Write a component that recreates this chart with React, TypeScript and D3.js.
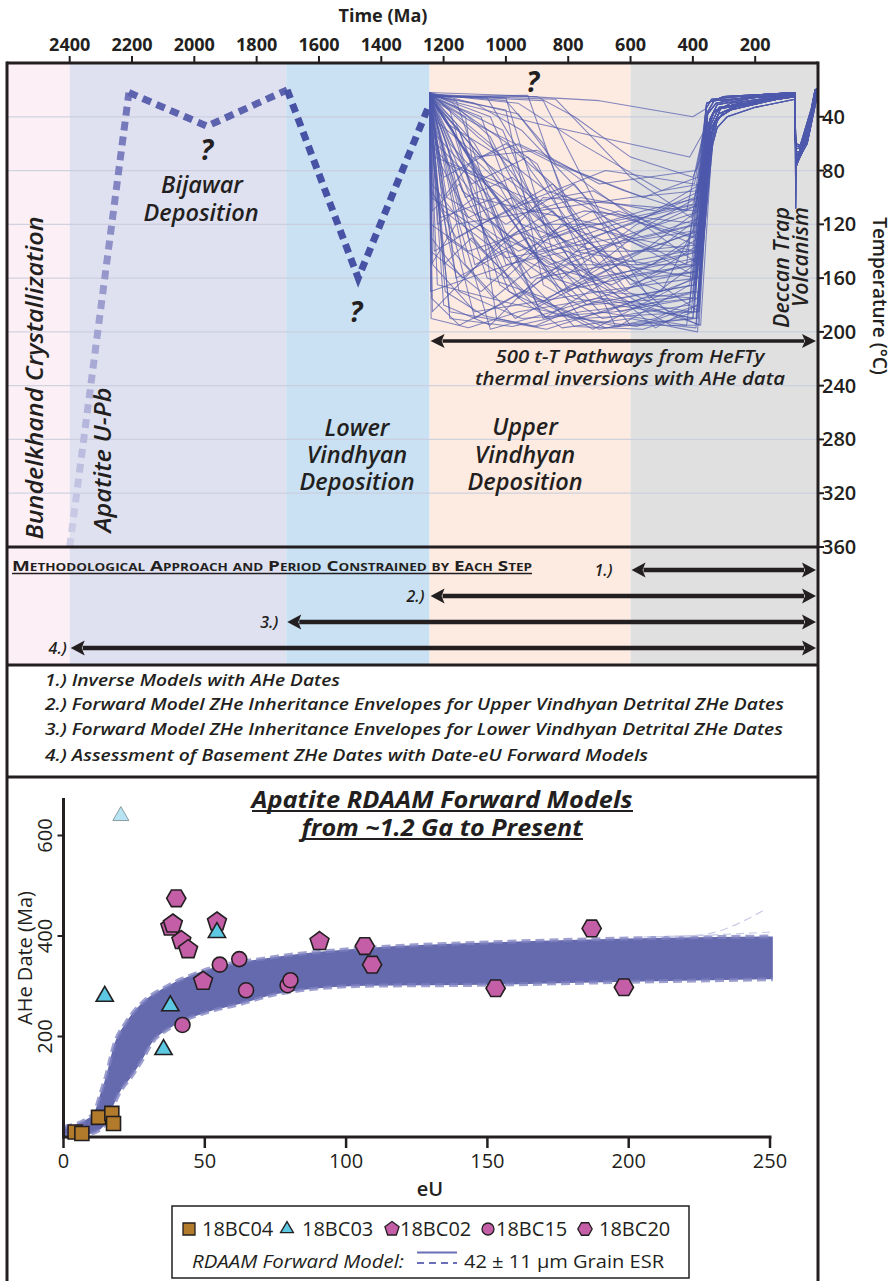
import React from 'react';
import * as d3 from 'd3';

const W = 893;
const H = 1281;
const INK = '#231f20';
const FONT = "'Open Sans', 'Noto Sans', sans-serif";

// ---- Time / temperature axes ----
const TIME_TICKS = [2400, 2200, 2000, 1800, 1600, 1400, 1200, 1000, 800, 600, 400, 200];
const TEMP_TICKS = [40, 80, 120, 160, 200, 240, 280, 320, 360];

// Geologic intervals shaded behind the history (Ma, oldest first)
const PERIOD_EDGES = [2600, 2400, 1705, 1245, 600, 0];
const PERIOD_COLORS = ['#fcf0f6', '#dfe1f0', '#c9e1f3', '#fdeae1', '#e0e0e1'];

// Inferred early history (time Ma, temperature °C)
const EARLY_LEG = [[2400, 360], [2210, 22]];
const BIJAWAR_LEG = [[2210, 22], [1959, 47], [1702, 20]];
const LOWER_VINDHYAN_LEG = [[1702, 20], [1474, 160], [1244, 30]];
const QUERY_MARKS = [[1960, 65], [1481, 185], [914, 14]];

// HeFTy t-T pathways: the pre-cooling part of each path
const TT_HEADS = [
  [[1245, 24], [1235, 150], [1100, 185], [700, 170], [390, 160]],
  [[1245, 22], [1240, 100], [1050, 130], [780, 175], [385, 190]],
  [[1245, 25], [1180, 60], [950, 120], [600, 150], [380, 185]],
  [[1245, 23], [1000, 26], [850, 140], [560, 180], [375, 195]],
  [[1245, 24], [880, 28], [700, 110], [400, 130]],
  [[1245, 26], [1200, 180], [1050, 195], [900, 160], [420, 140]],
  [[1245, 22], [1230, 80], [1150, 170], [950, 190], [650, 185], [395, 175]],
  [[1245, 25], [1100, 45], [800, 80], [560, 120], [380, 150]],
  [[1245, 23], [1240, 120], [1120, 140], [750, 110], [370, 120]],
  [[1245, 24], [1150, 35], [900, 75], [650, 195], [400, 190]],
  [[1245, 22], [1050, 60], [760, 150], [520, 197], [385, 180]],
  [[1245, 27], [1220, 165], [1000, 178], [640, 196], [410, 165]],
  [[1245, 24], [1130, 100], [980, 85], [700, 140], [380, 105]],
  [[1245, 23], [960, 30], [760, 60], [500, 95], [375, 90]],
  [[1245, 25], [1238, 60], [1180, 185], [870, 198], [560, 175], [390, 170]],
  [[1245, 22], [1190, 130], [1000, 160], [820, 120], [600, 140], [370, 135]],
  [[1245, 24], [840, 27], [600, 85], [405, 115]],
  [[1245, 26], [1210, 90], [1100, 190], [950, 170], [720, 198], [400, 160]],
  [[1245, 23], [1170, 50], [1020, 165], [820, 197], [600, 190], [385, 200]],
  [[1245, 24], [1230, 30], [1000, 110], [850, 90], [600, 165], [380, 145]],
  [[1245, 22], [1120, 70], [900, 180], [680, 150], [390, 125]],
  [[1245, 25], [1200, 40], [1050, 95], [700, 185], [420, 195]],
  [[1245, 24], [1160, 28], [980, 150], [780, 196], [560, 198], [395, 185]],
  [[1245, 23], [1240, 95], [1200, 110], [1000, 145], [640, 130], [375, 110]],
  [[1245, 25], [1080, 40], [920, 140], [740, 180], [470, 175], [380, 170]],
  [[1245, 22], [1238, 175], [1150, 195], [1020, 180], [800, 150], [400, 150]],
  [[1245, 24], [1100, 30], [950, 50], [620, 130], [380, 160]],
  [[1245, 26], [1230, 140], [1080, 120], [900, 175], [680, 197], [390, 190]],
  [[1245, 23], [1190, 75], [940, 100], [720, 170], [380, 175]],
  [[1245, 24], [1000, 35], [880, 165], [690, 190], [410, 180]],
  [[1245, 22], [1150, 120], [1050, 198], [850, 185], [500, 160], [385, 155]],
  [[1245, 25], [1220, 55], [1120, 80], [850, 130], [560, 110], [375, 100]],
  [[1245, 24], [1130, 150], [970, 190], [760, 165], [380, 140]],
  [[1245, 23], [1240, 40], [1060, 75], [800, 120], [480, 185], [385, 185]],
  [[1245, 25], [930, 24], [800, 110], [610, 170], [380, 195]],
  [[1245, 24], [1200, 100], [1100, 70], [900, 65], [700, 90], [390, 80]],
  [[1245, 22], [1180, 190], [980, 196], [760, 185], [400, 175]],
  [[1245, 25], [1080, 85], [850, 160], [640, 175], [395, 165]],
  [[1245, 23], [1240, 130], [1140, 160], [960, 125], [700, 150], [380, 125]],
  [[1245, 24], [1160, 45], [1010, 130], [820, 150], [470, 195], [390, 197]],
  [[1245, 22], [1000, 24], [700, 28], [400, 40]],
  [[1245, 23], [1150, 30], [900, 45], [410, 70]],
  [[1245, 25], [1242, 170], [1120, 160], [600, 120], [375, 95]],
  [[1245, 24], [1236, 185], [1090, 150], [880, 100], [390, 110]],
  [[1245, 26], [1190, 60], [1100, 150], [930, 130], [720, 160], [385, 145]],
  [[1245, 24], [1210, 115], [1030, 100], [830, 170], [620, 160], [380, 150]],
  [[1245, 22], [1090, 55], [870, 95], [660, 110], [395, 135]],
  [[1245, 25], [1170, 140], [1040, 175], [880, 145], [630, 185], [400, 170]],
  [[1245, 23], [1230, 70], [1010, 90], [780, 140], [530, 150], [375, 125]],
  [[1245, 24], [1140, 85], [990, 170], [830, 188], [580, 196], [385, 180]],
  [[1245, 25], [1060, 26], [920, 80], [760, 130], [550, 160], [390, 155]],
  [[1245, 22], [1200, 150], [1110, 130], [870, 190], [680, 175], [405, 185]],
  [[1245, 24], [1150, 110], [960, 140], [740, 120], [520, 140], [380, 115]],
  [[1245, 26], [1242, 60], [1130, 90], [920, 160], [700, 140], [395, 140]],
  [[1245, 23], [1010, 50], [880, 120], [690, 120], [420, 150]],
  [[1245, 25], [1195, 170], [1070, 188], [910, 196], [750, 180], [390, 165]],
  [[1245, 24], [1240, 150], [1160, 120], [900, 110], [600, 100], [385, 95]],
  [[1245, 23], [1100, 60], [900, 140], [650, 120], [390, 105]],
  [[1245, 25], [1200, 85], [1000, 60], [800, 100], [560, 130], [380, 120]],
  [[1245, 22], [1170, 30], [1050, 55], [800, 170], [560, 140], [385, 110]],
  [[1245, 24], [1236, 110], [1150, 90], [960, 175], [720, 130], [395, 100]],
  [[1245, 26], [1130, 65], [950, 105], [720, 95], [500, 125], [375, 115]],
  [[1245, 23], [1242, 140], [1080, 170], [880, 130], [640, 110], [390, 130]],
  [[1245, 25], [1060, 115], [880, 150], [660, 165], [450, 140], [380, 130]],
  [[1245, 24], [1190, 45], [980, 75], [760, 160], [540, 120], [385, 100]],
  [[1245, 22], [1220, 120], [1100, 100], [920, 110], [700, 120], [400, 105]],
  [[1245, 25], [1140, 95], [1000, 120], [780, 90], [580, 150], [380, 140]],
  [[1245, 23], [1000, 28], [880, 60], [720, 150], [500, 170], [390, 120]],
  [[1245, 24], [1238, 90], [1070, 140], [850, 110], [620, 170], [380, 135]],
  [[1245, 26], [1180, 35], [1080, 120], [900, 100], [680, 80], [395, 90]],
  [[1245, 22], [1160, 160], [1000, 140], [820, 160], [580, 120], [375, 105]],
  [[1245, 25], [900, 25], [780, 40], [600, 70], [400, 85]],
  [[1245, 24], [1225, 60], [1050, 100], [880, 190], [660, 160], [390, 150]],
  [[1245, 23], [1120, 130], [940, 170], [700, 198], [520, 190], [385, 175]],
  [[1245, 25], [1210, 75], [1120, 115], [980, 100], [770, 140], [390, 120]],
  [[1245, 24], [1080, 70], [960, 60], [780, 80], [560, 100], [385, 85]],
  [[1245, 22], [1240, 190], [1120, 197], [960, 185], [700, 175], [400, 190]],
  [[1245, 26], [1150, 50], [1000, 150], [800, 140], [600, 195], [390, 195]],
  [[1245, 23], [1050, 40], [920, 110], [760, 100], [520, 110], [375, 90]],
  [[1245, 25], [1190, 100], [1040, 120], [860, 150], [660, 135], [400, 125]],
  [[1245, 24], [1130, 40], [1030, 190], [900, 196], [680, 185], [385, 160]],
  [[1245, 22], [960, 38], [840, 75], [620, 95], [420, 110]],
  [[1245, 25], [1230, 100], [1160, 130], [1000, 110], [760, 190], [380, 185]],
  [[1245, 23], [1110, 90], [930, 70], [760, 120], [600, 130], [390, 140]],
  [[1245, 24], [1200, 65], [1060, 160], [870, 175], [640, 150], [380, 160]],
  [[1245, 26], [1040, 80], [890, 130], [720, 110], [540, 175], [395, 150]],
];

// Cooling, Deccan reheating and final exhumation segments
const TT_TAILS = [
  [[346, 42], [322, 31], [210, 26], [72, 23], [70, 70], [58, 68], [30, 55], [6, 24], [0, 20]],
  [[340, 52], [312, 34], [150, 27], [72, 24], [70, 74], [60, 70], [28, 52], [5, 22], [0, 21]],
  [[352, 36], [332, 28], [110, 24], [72, 22], [70, 64], [56, 63], [24, 40], [8, 21], [0, 20]],
  [[338, 58], [320, 41], [250, 31], [72, 25], [70, 78], [60, 72], [32, 58], [4, 26], [0, 22]],
  [[356, 30], [300, 25], [72, 22], [70, 62], [55, 62], [22, 38], [8, 20], [0, 19]],
  [[342, 46], [316, 33], [180, 28], [72, 24], [70, 108], [68, 72], [58, 69], [28, 50], [5, 23], [0, 21]],
  [[348, 62], [331, 46], [300, 36], [72, 24], [70, 70], [57, 66], [26, 45], [6, 22], [0, 20]],
  [[353, 38], [326, 30], [220, 25], [72, 23], [70, 68], [60, 67], [30, 52], [7, 24], [0, 20]],
  [[344, 50], [318, 38], [260, 32], [160, 28], [72, 25], [70, 72], [59, 70], [30, 56], [5, 24], [0, 21]],
  [[350, 45], [328, 35], [240, 29], [72, 24], [70, 66], [58, 66], [26, 44], [7, 22], [0, 20]],
  [[336, 60], [322, 48], [290, 40], [200, 33], [72, 27], [70, 76], [60, 71], [33, 60], [4, 28], [0, 22]],
  [[358, 34], [340, 27], [160, 23], [72, 22], [70, 60], [55, 61], [20, 34], [8, 20], [0, 19]],
  [[345, 55], [325, 42], [270, 33], [130, 27], [72, 24], [70, 73], [57, 69], [29, 53], [6, 23], [0, 21]],
  [[349, 48], [333, 37], [280, 30], [72, 23], [70, 69], [58, 67], [27, 48], [7, 22], [0, 20]],
];
const TT_TAIL_OF = [
  0, 1, 2, 3, 4, 5, 6, 7, 8, 9, 10, 11, 12, 13,
  2, 0, 3, 1, 6, 4, 7, 5, 9, 8, 11, 10, 13, 12,
  5, 4, 0, 2, 1, 3, 6, 7, 12, 10, 8, 13, 11, 9,
  4, 2, 0, 1, 3, 7, 6, 5, 2, 0, 1, 3, 4, 6,
  8, 9, 10, 11, 12, 13, 0, 1, 2, 3, 4, 5, 6, 7,
  13, 12, 11, 10, 9, 8, 7, 6, 5, 4, 3, 2, 1, 0,
  3, 8,
];

// ---- Methodology steps ----
const STEP_LABELS = ['1.)', '2.)', '3.)', '4.)'];
const STEP_START_MA = [600, 1245, 1705, 2400];
const STEP_NOTES = [
  '1.) Inverse Models with AHe Dates',
  '2.) Forward Model ZHe Inheritance Envelopes for Upper Vindhyan Detrital ZHe Dates',
  '3.) Forward Model ZHe Inheritance Envelopes for Lower Vindhyan Detrital ZHe Dates',
  '4.) Assessment of Basement ZHe Dates with Date-eU Forward Models',
];
const STEP_NOTE_WIDTHS = [295, 739, 738, 603];

// ---- Date-eU plot ----
const EU_TICKS = [0, 50, 100, 150, 200, 250];
const AGE_TICKS = [200, 400, 600];

// RDAAM forward model envelope (eU ppm, AHe date Ma)
const MODEL_UPPER = [
  [0, 20], [8, 35], [11, 50], [13, 85], [15, 120], [18, 185], [22, 227], [28, 268], [36, 298],
  [48, 328], [76, 359], [107, 376], [150, 387], [200, 395], [251, 399],
];
const MODEL_LOWER = [
  [0, 2], [9, 6], [14, 20], [17, 55], [20, 90], [24, 120], [28, 155], [31, 185], [38, 218],
  [50, 247], [62, 264], [76, 285], [107, 301], [150, 303], [200, 309], [251, 314],
];
const MODEL_OUTLIERS = [
  [[205, 398], [225, 402], [249, 455]],
  [[215, 398], [251, 408]],
];

const S_18BC04 = [[4.1, 10], [6.5, 7], [12.4, 39], [17.1, 47], [17.7, 27]];
const S_18BC03 = [[14.6, 280], [37.8, 261], [35.4, 174], [54.3, 407]];
const S_18BC03_FAINT = [[20.3, 639]];
const S_18BC02 = [[37.8, 418], [38.7, 424], [41.7, 391], [44.1, 373], [49.4, 310], [54.3, 428], [90.6, 389]];
const S_18BC15 = [[42.1, 223], [55.3, 343], [62.2, 354], [64.6, 292], [79.3, 302], [80.3, 312]];
const S_18BC20 = [[39.9, 475], [106.6, 380], [109.2, 343], [152.9, 296], [198.3, 298], [186.9, 415]];

const LEGEND_NAMES = ['18BC04', '18BC03', '18BC02', '18BC15', '18BC20'];

const BROWN = '#b27a2b';
const CYAN = '#5cc8e2';
const MAGENTA = '#c35ea7';
const BAND = '#6569ad';

function polygon(n: number, r: number, rot: number) {
  const pts: string[] = [];
  for (let i = 0; i < n; i++) {
    const a = rot + (i * 2 * Math.PI) / n;
    pts.push(`${(r * Math.cos(a)).toFixed(2)},${(r * Math.sin(a)).toFixed(2)}`);
  }
  return 'M' + pts.join('L') + 'Z';
}

type Shape = 'square' | 'triangle' | 'pentagon' | 'circle' | 'hexagon';

function markerPath(shape: Shape, s: number) {
  switch (shape) {
    case 'square':
      return `M${-s / 2},${-s / 2}h${s}v${s}h${-s}Z`;
    case 'triangle':
      return polygon(3, s * 0.62, -Math.PI / 2);
    case 'pentagon':
      return polygon(5, s * 0.62, -Math.PI / 2);
    case 'hexagon':
      return polygon(6, s * 0.6, 0);
    default:
      return d3.arc()({ innerRadius: 0, outerRadius: s / 2, startAngle: 0, endAngle: 2 * Math.PI }) as string;
  }
}

function DoubleArrow({ x1, x2, y, w, head, half }: { x1: number; x2: number; y: number; w: number; head: number; half: number }) {
  return (
    <g fill={INK}>
      <line x1={x1 + head - 2} x2={x2 - head + 2} y1={y} y2={y} stroke={INK} strokeWidth={w} />
      <path d={`M${x1},${y}L${x1 + head},${y - half}L${x1 + head - 3},${y}L${x1 + head},${y + half}Z`} />
      <path d={`M${x2},${y}L${x2 - head},${y - half}L${x2 - head + 3},${y}L${x2 - head},${y + half}Z`} />
    </g>
  );
}

export default function App() {
  const xT = d3.scaleLinear().domain([2400, 0]).range([69.7, 817.5]);
  const yT = d3.scaleLinear().domain([0, 360]).range([63, 547]);
  const xE = d3.scaleLinear().domain([0, 250]).range([63.5, 770]);
  const yA = d3.scaleLinear().domain([0, 600]).range([1137, 835.5]);

  const L = 7;
  const R = 818;
  const TOP = 63;
  const Y_METHOD = 547;
  const Y_LIST = 665;
  const Y_PLOT = 777;

  const ttLine = d3
    .line<number[]>()
    .x((d) => xT(d[0]))
    .y((d) => yT(d[1]));

  const modelLine = d3
    .line<number[]>()
    .x((d) => xE(d[0]))
    .y((d) => yA(d[1]))
    .curve(d3.curveMonotoneX);
  const upperD = modelLine(MODEL_UPPER) as string;
  const lowerD = modelLine([...MODEL_LOWER].reverse()) as string;
  const bandD = upperD + 'L' + lowerD.slice(1) + 'Z';
  const lowerFwd = modelLine(MODEL_LOWER) as string;

  const stepY = [570, 596, 622, 648];
  const stepLabelGap = [18, 5, 8, 3];
  const noteBase = [686, 710, 735, 761];

  const earlyStart = EARLY_LEG[0];
  const earlyEnd = EARLY_LEG[1];

  const markers: { data: number[][]; shape: Shape; fill: string; size: number; stroke?: string; sw?: number }[] = [
    { data: S_18BC03_FAINT, shape: 'triangle', fill: '#b6e4f2', size: 15, stroke: '#8c9ca2', sw: 1 },
    { data: S_18BC04, shape: 'square', fill: BROWN, size: 14 },
    { data: S_18BC20, shape: 'hexagon', fill: MAGENTA, size: 16 },
    { data: S_18BC02, shape: 'pentagon', fill: MAGENTA, size: 16 },
    { data: S_18BC15, shape: 'circle', fill: MAGENTA, size: 15 },
    { data: S_18BC03, shape: 'triangle', fill: CYAN, size: 16 },
  ];

  const legendShapes: Shape[] = ['square', 'triangle', 'pentagon', 'circle', 'hexagon'];
  const legendFills = [BROWN, CYAN, MAGENTA, MAGENTA, MAGENTA];
  const legendSymX = [189, 287, 392, 488, 585];
  const legendTextX = [202, 302, 400, 496, 599];

  return (
    <svg
      width={W}
      height={H}
      viewBox={`0 0 ${W} ${H}`}
      style={{ position: 'absolute', left: 0, top: 0, display: 'block', background: '#fff' }}
      fontFamily={FONT}
    >
      <defs>
        <linearGradient id="earlyGrad" gradientUnits="userSpaceOnUse"
          x1={xT(earlyStart[0])} y1={yT(earlyStart[1])} x2={xT(earlyEnd[0])} y2={yT(earlyEnd[1])}>
          <stop offset="0" stopColor="#cfcfe8" />
          <stop offset="1" stopColor="#6f72b8" />
        </linearGradient>
        <clipPath id="ttClip">
          <rect x={L} y={TOP} width={R - L} height={Y_METHOD - TOP} />
        </clipPath>
      </defs>

      <rect x={0} y={0} width={W} height={H} fill="#fff" />

      {/* period shading through the history and methodology panels */}
      {PERIOD_COLORS.map((c, i) => {
        const x0 = i === 0 ? L : xT(PERIOD_EDGES[i]);
        const x1 = i === PERIOD_COLORS.length - 1 ? R : xT(PERIOD_EDGES[i + 1]);
        return <rect key={i} x={x0} y={TOP} width={x1 - x0} height={Y_LIST - TOP} fill={c} />;
      })}

      {/* temperature gridlines */}
      {TEMP_TICKS.filter((t) => t < 360).map((t) => (
        <line key={t} x1={L} x2={R} y1={yT(t)} y2={yT(t)} stroke="#c9cddd" strokeWidth={1.3} opacity={0.85} />
      ))}

      {/* inferred Proterozoic history */}
      <path d={ttLine(EARLY_LEG) as string} fill="none" stroke="url(#earlyGrad)" strokeWidth={7} strokeDasharray="9 6" />
      <path d={ttLine(BIJAWAR_LEG) as string} fill="none" stroke="#5c62ad" strokeWidth={7} strokeDasharray="9 6" />
      <path d={ttLine(LOWER_VINDHYAN_LEG) as string} fill="none" stroke="#4752a4" strokeWidth={7} strokeDasharray="9 6" />

      {/* HeFTy inverse-model pathways */}
      <g clipPath="url(#ttClip)" fill="none" stroke="#4f5aad" strokeWidth={1.05} strokeOpacity={0.7} strokeLinejoin="round">
        {TT_HEADS.map((head, i) => (
          <path key={i} d={ttLine([...head, ...TT_TAILS[TT_TAIL_OF[i]]]) as string} />
        ))}
      </g>

      {/* question marks */}
      {QUERY_MARKS.map((q, i) => (
        <text key={i} x={xT(q[0])} y={yT(q[1]) + 10} textAnchor="middle" fontSize={28} fontWeight={700}
          fontStyle="italic" fill={INK}>?</text>
      ))}

      {/* interval labels */}
      <g fill={INK} fontStyle="italic" fontWeight={600} fontSize={23.5}>
        <text x={202} y={193} textAnchor="middle">Bijawar</text>
        <text x={201} y={221} textAnchor="middle">Deposition</text>
        <text x={357} y={436} textAnchor="middle">Lower</text>
        <text x={357} y={463} textAnchor="middle">Vindhyan</text>
        <text x={357} y={490} textAnchor="middle">Deposition</text>
        <text x={525} y={435} textAnchor="middle">Upper</text>
        <text x={525} y={463} textAnchor="middle">Vindhyan</text>
        <text x={525} y={490} textAnchor="middle">Deposition</text>
        <text transform="translate(43,378) rotate(-90)" textAnchor="middle" textLength={323} lengthAdjust="spacingAndGlyphs">
          Bundelkhand Crystallization
        </text>
        <text transform="translate(111,460) rotate(-90)" textAnchor="middle" textLength={145} lengthAdjust="spacingAndGlyphs">
          Apatite U-Pb
        </text>
      </g>
      <g fill={INK} fontStyle="italic" fontWeight={600} fontSize={21}>
        <text transform="translate(789,207) rotate(-90)" textAnchor="end" textLength={121} lengthAdjust="spacingAndGlyphs">
          Deccan Trap
        </text>
        <text transform="translate(808,207) rotate(-90)" textAnchor="end" textLength={100} lengthAdjust="spacingAndGlyphs">
          Volcanism
        </text>
      </g>

      {/* inverse-model time span */}
      <DoubleArrow x1={xT(1245) + 1} x2={R - 2} y={341} w={3.5} head={14} half={7} />
      <g fill={INK} fontStyle="italic" fontWeight={600} fontSize={18.5}>
        <text x={630} y={363} textAnchor="middle" textLength={269} lengthAdjust="spacingAndGlyphs">
          500 t-T Pathways from HeFTy
        </text>
        <text x={630} y={385} textAnchor="middle" textLength={310} lengthAdjust="spacingAndGlyphs">
          thermal inversions with AHe data
        </text>
      </g>

      {/* methodology panel */}
      <text x={12} y={571} fontSize={14} fontWeight={700} fill={INK} style={{ fontVariant: 'small-caps' }}
        textLength={520} lengthAdjust="spacingAndGlyphs">
        Methodological Approach and Period Constrained by Each Step
      </text>
      <line x1={12} x2={532} y1={573.5} y2={573.5} stroke={INK} strokeWidth={1.3} />
      {STEP_START_MA.map((t, i) => (
        <g key={i}>
          <DoubleArrow x1={xT(t) + 1} x2={R - 2} y={stepY[i]} w={4.5} head={14} half={7.5} />
          <text x={xT(t) - stepLabelGap[i]} y={stepY[i] + 6} textAnchor="end" fontSize={16} fontStyle="italic"
            fontWeight={600} fill={INK}>{STEP_LABELS[i]}</text>
        </g>
      ))}

      {/* methodology notes */}
      <rect x={L} y={Y_LIST} width={R - L} height={Y_PLOT - Y_LIST} fill="#fff" />
      {STEP_NOTES.map((s, i) => (
        <text key={i} x={45} y={noteBase[i]} fontSize={16.5} fontStyle="italic" fontWeight={600} fill={INK}
          textLength={STEP_NOTE_WIDTHS[i]} lengthAdjust="spacingAndGlyphs">{s}</text>
      ))}

      {/* time axis */}
      <text x={383} y={22} textAnchor="middle" fontSize={18} fontWeight={700} fill={INK}>Time (Ma)</text>
      {TIME_TICKS.map((t) => (
        <g key={t}>
          <line x1={xT(t)} x2={xT(t)} y1={TOP} y2={56} stroke={INK} strokeWidth={2} />
          <text x={xT(t)} y={51} textAnchor="middle" fontSize={18} fontWeight={700} fill={INK}>{t}</text>
        </g>
      ))}

      {/* temperature axis */}
      {TEMP_TICKS.map((t) => (
        <g key={t}>
          <line x1={R} x2={R + 6} y1={yT(t)} y2={yT(t)} stroke={INK} strokeWidth={2} />
          <text x={R + 4} y={yT(t) + 7} fontSize={20} fontWeight={600} fill={INK}>{t}</text>
        </g>
      ))}
      <text transform="translate(873,296) rotate(90)" textAnchor="middle" fontSize={19} fontWeight={600} fill={INK}>
        Temperature (°C)
      </text>

      {/* panel frames */}
      <g stroke={INK} strokeWidth={3} fill="none">
        <line x1={L} x2={R} y1={TOP} y2={TOP} />
        <line x1={L} x2={L} y1={TOP - 1.5} y2={H} />
        <line x1={R} x2={R} y1={TOP - 1.5} y2={H} />
        <line x1={L} x2={R} y1={Y_METHOD} y2={Y_METHOD} />
        <line x1={L} x2={R} y1={Y_LIST} y2={Y_LIST} />
        <line x1={L} x2={R} y1={Y_PLOT} y2={Y_PLOT} />
      </g>

      {/* ---- AHe date vs eU ---- */}
      <g fill={INK} fontStyle="italic" fontWeight={700} fontSize={23}>
        <text x={442} y={808} textAnchor="middle" textLength={381} lengthAdjust="spacingAndGlyphs">
          Apatite RDAAM Forward Models
        </text>
        <text x={442} y={836} textAnchor="middle" textLength={281} lengthAdjust="spacingAndGlyphs">
          from ~1.2 Ga to Present
        </text>
      </g>
      <line x1={252} x2={633} y1={811} y2={811} stroke={INK} strokeWidth={1.8} />
      <line x1={302} x2={583} y1={839} y2={839} stroke={INK} strokeWidth={1.8} />

      {/* model envelope */}
      <path d={bandD} fill={BAND} />
      <path d={upperD} fill="none" stroke="#7d82c0" strokeWidth={4} strokeDasharray="9 5" opacity={0.75} />
      <path d={lowerFwd} fill="none" stroke="#7d82c0" strokeWidth={4} strokeDasharray="9 5" opacity={0.75} />
      {MODEL_OUTLIERS.map((o, i) => (
        <path key={i} d={modelLine(o) as string} fill="none" stroke="#c9cbe6" strokeWidth={1.2} strokeDasharray="8 5" />
      ))}

      {/* axes */}
      <g stroke={INK} strokeWidth={3}>
        <line x1={xE(0)} x2={xE(0)} y1={798} y2={yA(0) + 1.5} />
        <line x1={xE(0) - 1.5} x2={xE(250) + 1.5} y1={yA(0)} y2={yA(0)} />
      </g>
      {EU_TICKS.map((v) => (
        <g key={v}>
          <line x1={xE(v)} x2={xE(v)} y1={yA(0)} y2={yA(0) + 11} stroke={INK} strokeWidth={2.5} />
          <text x={xE(v)} y={1168} textAnchor="middle" fontSize={20} fill={INK}>{v}</text>
        </g>
      ))}
      {AGE_TICKS.map((v) => (
        <g key={v}>
          <line x1={xE(0)} x2={xE(0) - 6} y1={yA(v)} y2={yA(v)} stroke={INK} strokeWidth={2} />
          <text transform={`translate(52,${yA(v)}) rotate(-90)`} textAnchor="middle" fontSize={20} fill={INK}>{v}</text>
        </g>
      ))}
      <text x={430} y={1196} textAnchor="middle" fontSize={20} fontWeight={600} fill={INK}>eU</text>
      <text transform="translate(32,958) rotate(-90)" textAnchor="middle" fontSize={20} fontWeight={500} fill={INK}>
        AHe Date (Ma)
      </text>

      {/* samples */}
      {markers.map((m, i) => (
        <g key={i}>
          {m.data.map((d, j) => (
            <path key={j} transform={`translate(${xE(d[0])},${yA(d[1])})`} d={markerPath(m.shape, m.size)}
              fill={m.fill} stroke={m.stroke || INK} strokeWidth={m.sw || 1.6} />
          ))}
        </g>
      ))}

      {/* legend */}
      <rect x={172} y={1206} width={517} height={72} fill="#fff" stroke={INK} strokeWidth={1.5} />
      {LEGEND_NAMES.map((n, i) => (
        <g key={n}>
          <path transform={`translate(${legendSymX[i]},1229)`} d={markerPath(legendShapes[i], 12)}
            fill={legendFills[i]} stroke={INK} strokeWidth={1.3} />
          <text x={legendTextX[i]} y={1236} fontSize={20} fill={INK}>{n}</text>
        </g>
      ))}
      <text x={192} y={1268} fontSize={19} fontStyle="italic" fill={INK} textLength={212} lengthAdjust="spacingAndGlyphs">
        RDAAM Forward Model:
      </text>
      <line x1={417} x2={457} y1={1252.5} y2={1252.5} stroke="#6a70b8" strokeWidth={2} />
      <line x1={417} x2={457} y1={1263} y2={1263} stroke="#6a70b8" strokeWidth={2} strokeDasharray="7 5" />
      <text x={464} y={1268} fontSize={19} fill={INK} textLength={200} lengthAdjust="spacingAndGlyphs">
        42 ± 11 µm Grain ESR
      </text>
    </svg>
  );
}
